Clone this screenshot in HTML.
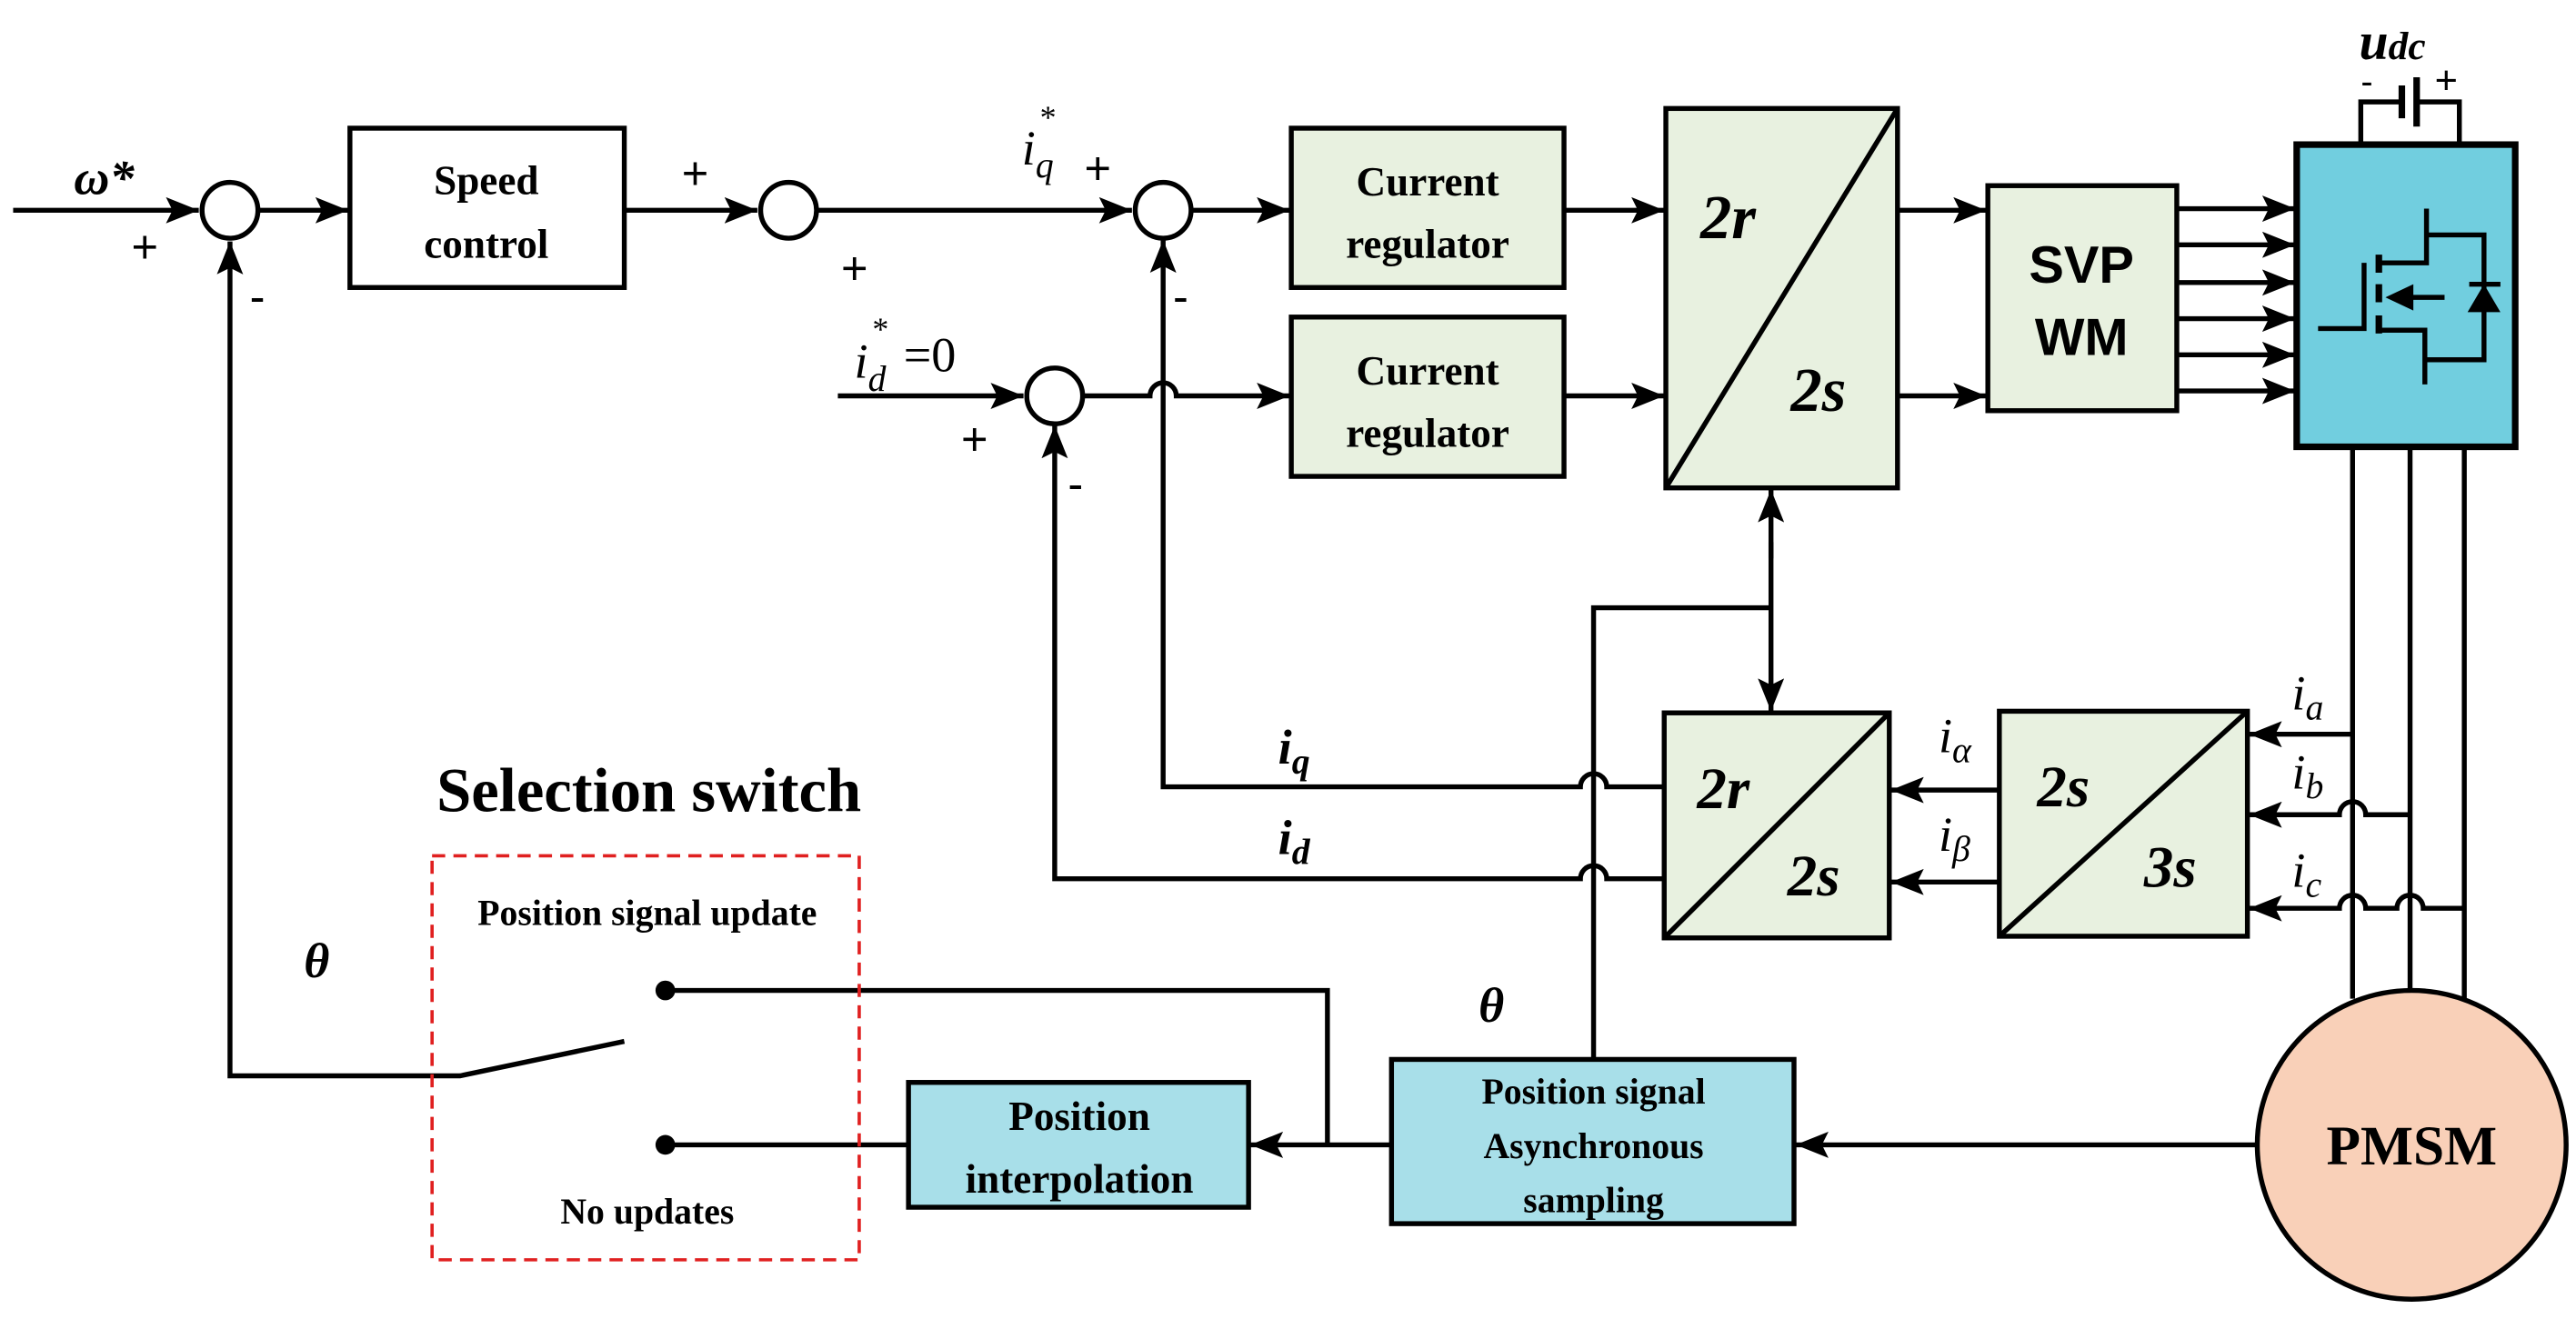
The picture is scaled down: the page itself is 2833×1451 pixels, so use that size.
<!DOCTYPE html>
<html><head><meta charset="utf-8"><style>html,body{margin:0;padding:0;background:#fff}svg{display:block}</style></head><body>
<svg width="2833" height="1451" viewBox="0 0 1568 803" xmlns="http://www.w3.org/2000/svg" font-family="Liberation Serif, serif">
<defs>
<marker id="a" markerUnits="userSpaceOnUse" markerWidth="22" markerHeight="16" refX="20" refY="8" orient="auto"><path d="M0,0 L20,8 L0,16 L4,8 Z" fill="#000"/></marker>
</defs>
<g stroke="#000" stroke-width="3" fill="none">
<line x1="8" y1="128" x2="121" y2="128" marker-end="url(#a)"/>
<circle cx="140" cy="128" r="17"/>
<line x1="157" y1="128" x2="212" y2="128" marker-end="url(#a)"/>
<rect x="213" y="78" width="167" height="97"/>
<line x1="380" y1="128" x2="461" y2="128" marker-end="url(#a)"/>
<circle cx="480" cy="128" r="17"/>
<line x1="497" y1="128" x2="689" y2="128" marker-end="url(#a)"/>
<circle cx="708" cy="128" r="17"/>
<line x1="725" y1="128" x2="785" y2="128" marker-end="url(#a)"/>
<rect x="786" y="78" width="166" height="97" fill="#e8f1e0"/>
<line x1="952" y1="128" x2="1013" y2="128" marker-end="url(#a)"/>
<line x1="510" y1="241" x2="623" y2="241" marker-end="url(#a)"/>
<circle cx="642" cy="241" r="17"/>
<path d="M659,241 H700 a8,8 0 0 1 16,0 H785" marker-end="url(#a)"/>
<rect x="786" y="193" width="166" height="97" fill="#e8f1e0"/>
<line x1="952" y1="241" x2="1013" y2="241" marker-end="url(#a)"/>
<rect x="1014" y="66" width="141" height="231" fill="#e8f1e0"/>
<line x1="1014" y1="297" x2="1155" y2="66"/>
<line x1="1155" y1="128" x2="1209" y2="128" marker-end="url(#a)"/>
<line x1="1155" y1="241" x2="1209" y2="241" marker-end="url(#a)"/>
<rect x="1210" y="113" width="115" height="137" fill="#e8f1e0"/>
<line x1="1325" y1="127" x2="1397" y2="127" marker-end="url(#a)"/>
<line x1="1325" y1="149" x2="1397" y2="149" marker-end="url(#a)"/>
<line x1="1325" y1="172" x2="1397" y2="172" marker-end="url(#a)"/>
<line x1="1325" y1="194" x2="1397" y2="194" marker-end="url(#a)"/>
<line x1="1325" y1="216" x2="1397" y2="216" marker-end="url(#a)"/>
<line x1="1325" y1="238" x2="1397" y2="238" marker-end="url(#a)"/>
<rect x="1398" y="88" width="133" height="184" fill="#71cedf" stroke-width="4"/>
<path d="M1437,88 V62 H1462 M1471,62 H1497 V88"/>
<line x1="1462" y1="52" x2="1462" y2="72" stroke-width="4"/>
<line x1="1471" y1="47" x2="1471" y2="77" stroke-width="4"/>
<path d="M1411,200 H1439 V160"/>
<path d="M1448,155 V166 M1448,173 V184 M1448,192 V203" stroke-width="4"/>
<path d="M1448,160 H1477 V127 M1477,143 H1512 V219 H1477 M1448,201 H1476 V234"/>
<line x1="1488" y1="181" x2="1462" y2="181"/>
<line x1="1503" y1="173" x2="1522" y2="173"/>
<line x1="1432" y1="272" x2="1432" y2="608"/>
<line x1="1467" y1="272" x2="1467" y2="603"/>
<line x1="1500" y1="272" x2="1500" y2="608"/>
<rect x="1013" y="434" width="137" height="137" fill="#e8f1e0"/>
<line x1="1013" y1="571" x2="1150" y2="434"/>
<rect x="1217" y="433" width="151" height="137" fill="#e8f1e0"/>
<line x1="1217" y1="570" x2="1368" y2="433"/>
<line x1="1432" y1="447" x2="1369" y2="447" marker-end="url(#a)"/>
<path d="M1467,496 H1440 a8,8 0 0 0 -16,0 H1369" marker-end="url(#a)"/>
<path d="M1500,553 H1475 a8,8 0 0 0 -16,0 H1440 a8,8 0 0 0 -16,0 H1369" marker-end="url(#a)"/>
<line x1="1217" y1="481" x2="1151" y2="481" marker-end="url(#a)"/>
<line x1="1217" y1="537" x2="1151" y2="537" marker-end="url(#a)"/>
<path d="M1013,479 H978 a8,8 0 0 0 -16,0 H708 V146" marker-end="url(#a)"/>
<path d="M1013,535 H978 a8,8 0 0 0 -16,0 H642 V259" marker-end="url(#a)"/>
<path d="M970,645 V370 H1078"/>
<line x1="1078" y1="330" x2="1078" y2="433" marker-end="url(#a)"/>
<line x1="1078" y1="340" x2="1078" y2="298" marker-end="url(#a)"/>
<circle cx="1468" cy="697" r="94" fill="#f9d0b8"/>
<line x1="1374" y1="697" x2="1093" y2="697" marker-end="url(#a)"/>
<rect x="847" y="645" width="245" height="100" fill="#a8dfe9"/>
<line x1="847" y1="697" x2="761" y2="697" marker-end="url(#a)"/>
<rect x="553" y="659" width="207" height="76" fill="#a8dfe9"/>
<path d="M808,697 V603 H405"/>
<line x1="405" y1="697" x2="553" y2="697"/>
<path d="M380,634 L280,655 H140 V147" marker-end="url(#a)"/>
<rect x="263" y="521" width="260" height="246" stroke="#e02020" stroke-width="2" stroke-dasharray="8,5"/>
</g>
<circle cx="405" cy="603" r="6"/><circle cx="405" cy="697" r="6"/>
<path d="M1452,181 L1469,173 L1469,189 Z" fill="#000"/>
<path d="M1512,173 L1502,190 L1522,190 Z" fill="#000"/>
<g font-weight="bold" text-anchor="middle" font-size="25">
<text x="296" y="118">Speed</text><text x="296" y="157">control</text>
<text x="869" y="119">Current</text><text x="869" y="157">regulator</text>
<text x="869" y="234">Current</text><text x="869" y="272">regulator</text>
<text x="1267" y="172" font-size="32" font-family="Liberation Sans, sans-serif">SVP</text>
<text x="1267" y="216" font-size="32" font-family="Liberation Sans, sans-serif">WM</text>
<text x="657" y="688">Position</text><text x="657" y="726">interpolation</text>
<text x="970" y="672" font-size="22">Position signal</text><text x="970" y="705" font-size="22">Asynchronous</text><text x="970" y="738" font-size="22">sampling</text>
<text x="1468" y="709" font-size="34">PMSM</text>
<text x="395" y="494" font-size="38">Selection switch</text>
<text x="394" y="563" font-size="22">Position signal update</text>
<text x="394" y="745" font-size="22">No updates</text>
</g>
<g font-weight="bold" font-style="italic" font-size="38">
<text x="1035" y="145">2r</text><text x="1090" y="250">2s</text>
<text x="1033" y="492" font-size="36">2r</text><text x="1088" y="545" font-size="36">2s</text>
<text x="1240" y="491" font-size="36">2s</text><text x="1305" y="540" font-size="36">3s</text>
<text x="45" y="118" font-size="30">ω*</text>
<text x="185" y="595" font-size="30">θ</text><text x="900" y="622" font-size="30">θ</text>
<text x="1436" y="36" font-size="32">u<tspan font-size="24">dc</tspan></text>
<text x="778" y="465" font-size="30">i<tspan font-size="22" dy="6">q</tspan></text>
<text x="778" y="520" font-size="30">i<tspan font-size="22" dy="6">d</tspan></text>
</g>
<g font-style="italic" font-size="30">
<text x="1180" y="458">i<tspan font-size="22" dy="6">α</tspan></text>
<text x="1180" y="518">i<tspan font-size="22" dy="6">β</tspan></text>
<text x="1395" y="432">i<tspan font-size="22" dy="6">a</tspan></text>
<text x="1395" y="480">i<tspan font-size="22" dy="6">b</tspan></text>
<text x="1395" y="540">i<tspan font-size="22" dy="6">c</tspan></text>
<text x="622" y="100">i<tspan font-size="22" dy="8">q</tspan></text><text x="632" y="78" font-size="20">*</text>
<text x="520" y="230">i<tspan font-size="22" dy="8">d</tspan></text><text x="530" y="207" font-size="20">*</text><text x="550" y="226" font-style="normal">=0</text>
</g>
<g font-size="28" font-family="Liberation Sans, sans-serif">
<text x="80" y="160">+</text><text x="152" y="190">-</text>
<text x="415" y="115">+</text><text x="512" y="173">+</text>
<text x="660" y="112">+</text><text x="714" y="190">-</text>
<text x="585" y="277">+</text><text x="650" y="304">-</text>
<text x="1437" y="57" font-size="22">-</text><text x="1482" y="57" font-size="24">+</text>
</g>
</svg>
</body></html>
